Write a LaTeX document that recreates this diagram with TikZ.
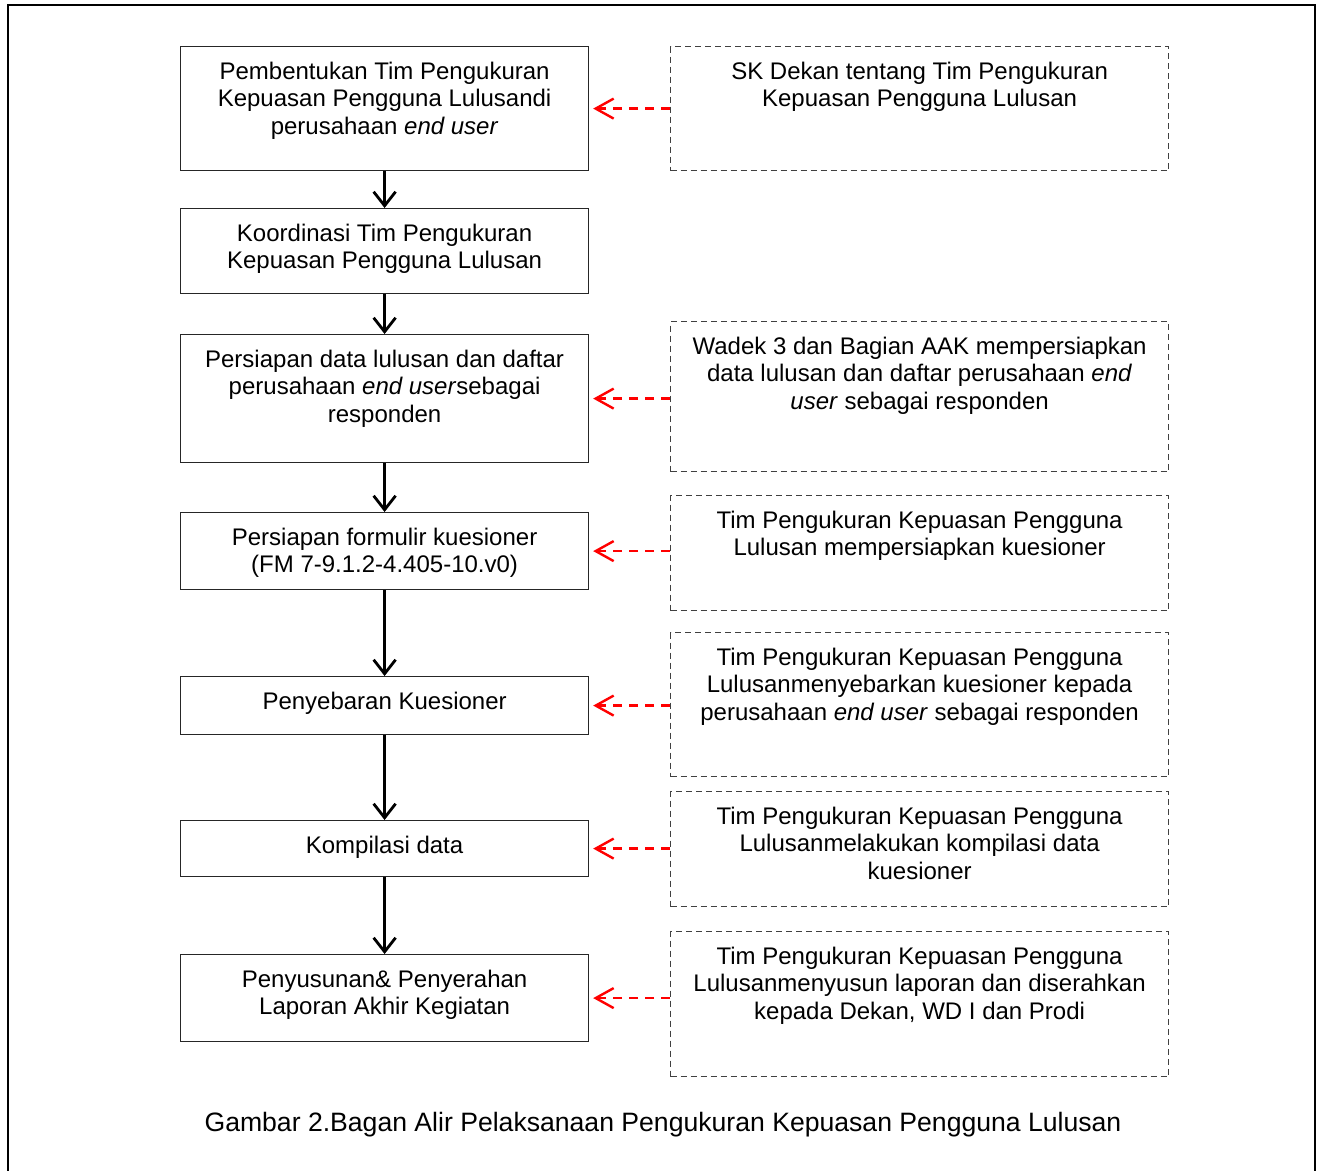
\documentclass[tikz,border=0pt]{standalone}
\usepackage{fontspec}
\setmainfont{Liberation Sans}
\usetikzlibrary{arrows.meta}

% isi kotak: lebar, tinggi, teks (rata atas, tengah)
\newcommand{\kotak}[3]{\parbox[c][#2][t]{#1}{\centering\vspace*{7.6pt}#3}}

\tikzset{
  langkah/.style={draw=black!85, line width=0.6pt, inner sep=0pt, anchor=north west},
  sumber/.style={draw=black!75, dash pattern=on 3pt off 2pt, line width=0.6pt, inner sep=0pt, anchor=north west},
  alur/.style={-{Straight Barb[length=7pt,width=11pt]}, line width=1.4pt},
  rujuk/.style={-{Straight Barb[length=9pt,width=10pt]}, red, dash pattern=on 4.5pt off 3.5pt, line width=1.2pt},
}

\begin{document}
\begin{tikzpicture}[x=0.5pt, y=-0.5pt, font=\fontsize{12}{13.75}\selectfont]
\useasboundingbox (0,0) rectangle (1323,1171);

\def\lebarL{204pt}
\def\lebarR{249pt}

%--- Bingkai luar ---
\draw[line width=0.8pt] (8,1171) -- (8,5) -- (1315,5) -- (1315,1171);

%--- Langkah kegiatan (kolom kiri) ---
\node[langkah] (b1) at (180,46) {\kotak{\lebarL}{62pt}{Pembentukan Tim Pengukuran\\Kepuasan Pengguna Lulusandi\\perusahaan \textit{end user}}};
\node[langkah] (b2) at (180,208) {\kotak{\lebarL}{42.5pt}{Koordinasi Tim Pengukuran\\Kepuasan Pengguna Lulusan}};
\node[langkah] (b3) at (180,334) {\kotak{\lebarL}{64pt}{Persiapan data lulusan dan daftar\\perusahaan \textit{end user}sebagai\\responden}};
\node[langkah] (b4) at (180,512) {\kotak{\lebarL}{38.5pt}{Persiapan formulir kuesioner\\(FM 7-9.1.2-4.405-10.v0)}};
\node[langkah] (b5) at (180,676) {\kotak{\lebarL}{29pt}{Penyebaran Kuesioner}};
\node[langkah] (b6) at (180,820) {\kotak{\lebarL}{28pt}{Kompilasi data}};
\node[langkah] (b7) at (180,954) {\kotak{\lebarL}{43.5pt}{Penyusunan\& Penyerahan\\Laporan Akhir Kegiatan}};

%--- Pelaksana / dokumen (kolom kanan) ---
\node[sumber] (r1) at (670,46) {\kotak{\lebarR}{62pt}{SK Dekan tentang Tim Pengukuran\\Kepuasan Pengguna Lulusan}};
\node[sumber] (r3) at (670,321) {\kotak{\lebarR}{75pt}{Wadek 3 dan Bagian AAK mempersiapkan\\data lulusan dan daftar perusahaan \textit{end}\\\textit{user} sebagai responden}};
\node[sumber] (r4) at (670,495) {\kotak{\lebarR}{57.5pt}{Tim Pengukuran Kepuasan Pengguna\\Lulusan mempersiapkan kuesioner}};
\node[sumber] (r5) at (670,632) {\kotak{\lebarR}{72pt}{Tim Pengukuran Kepuasan Pengguna\\Lulusanmenyebarkan kuesioner kepada\\perusahaan \textit{end user} sebagai responden}};
\node[sumber] (r6) at (670,791) {\kotak{\lebarR}{57.5pt}{Tim Pengukuran Kepuasan Pengguna\\Lulusanmelakukan kompilasi data\\kuesioner}};
\node[sumber] (r7) at (670,931) {\kotak{\lebarR}{72.5pt}{Tim Pengukuran Kepuasan Pengguna\\Lulusanmenyusun laporan dan diserahkan\\kepada Dekan, WD I dan Prodi}};

%--- Panah alur ---
\foreach \a/\b in {b1/b2, b2/b3, b3/b4, b4/b5, b5/b6, b6/b7}
  \draw[alur] (\a.south) -- (\b.north);

%--- Panah rujukan (merah putus-putus) ---
\foreach \r/\b in {r1/b1, r3/b3, r4/b4, r5/b5, r6/b6, r7/b7}
  \draw[rujuk] (\r.west |- \b.east) -- ([xshift=2pt]\b.east);

%--- Judul gambar ---
\node[font=\fontsize{13.3}{16}\selectfont] (judul) at (663,1125) {Gambar 2.Bagan Alir Pelaksanaan Pengukuran Kepuasan Pengguna Lulusan};

\end{tikzpicture}
\end{document}
